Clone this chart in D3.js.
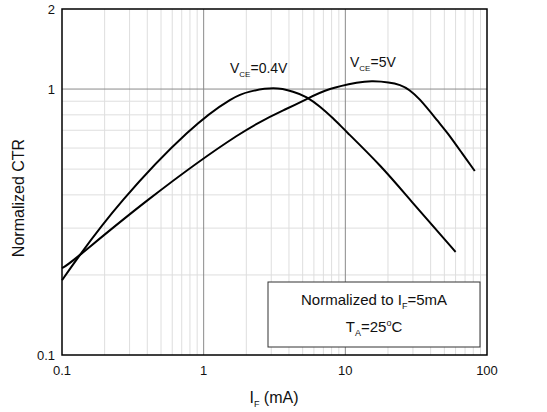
<!DOCTYPE html>
<html>
<head>
    <script src="https://d3js.org/d3.v7.min.js"></script>
    <style>
        body { margin: 0; background: #fff; }
        text { font-family: Arial, "Liberation Sans", sans-serif; fill: #111; }
    </style>
</head>
<body>
    <svg width="547" height="412"></svg>
    <script>
        // forward current (mA) and normalized CTR
        var if04 = [0.1, 0.134, 0.27, 0.76, 1.53, 2.12, 3.1, 4.27, 5.33, 6.62, 8.18, 10.4, 17.6, 29.6, 60];
        var ctr04 = [0.191, 0.238, 0.383, 0.682, 0.909, 0.978, 1.006, 0.977, 0.931, 0.858, 0.776, 0.684, 0.515, 0.376, 0.244];

        var if5 = [0.1, 0.134, 0.405, 1.71, 3.75, 5.33, 7.8, 12.0, 15.7, 24.3, 33.7, 44.4, 53.1, 66.6, 82];
        var ctr5 = [0.212, 0.238, 0.383, 0.666, 0.838, 0.917, 1.0, 1.056, 1.07, 1.035, 0.91, 0.764, 0.678, 0.574, 0.492];

        var xTicks = [0.1, 1, 10, 100];
        var yTicks = [0.1, 1, 2];

        var svg = d3.select("svg"),
            margin = {left: 62, right: 60, top: 9, bottom: 57},
            width = 547 - margin.left - margin.right,
            height = 412 - margin.top - margin.bottom;

        var x = d3.scaleLog().domain([0.1, 100]).range([0, width]);
        var y = d3.scaleLog().domain([0.1, 2]).range([height, 0]);

        var g = svg.append("g")
                   .attr("transform", "translate(" + margin.left + "," + margin.top + ")");

        // grid
        var xMinor = [], yMinor = [];
        [0.1, 1, 10].forEach(function(d) {
            for (var k = 2; k <= 9; k++) xMinor.push(d * k);
        });
        for (var k = 2; k <= 9; k++) yMinor.push(k / 10);

        g.selectAll(".vx").data(xMinor).enter().append("line")
         .attr("x1", d => x(d)).attr("x2", d => x(d))
         .attr("y1", 0).attr("y2", height)
         .attr("stroke", "#dedede").attr("stroke-width", 1);
        g.selectAll(".hy").data(yMinor).enter().append("line")
         .attr("x1", 0).attr("x2", width)
         .attr("y1", d => y(d)).attr("y2", d => y(d))
         .attr("stroke", "#dedede").attr("stroke-width", 1);
        g.selectAll(".vmaj").data([1, 10]).enter().append("line")
         .attr("x1", d => x(d)).attr("x2", d => x(d))
         .attr("y1", 0).attr("y2", height)
         .attr("stroke", "#8a8a8a").attr("stroke-width", 1);
        g.append("line")
         .attr("x1", 0).attr("x2", width)
         .attr("y1", y(1)).attr("y2", y(1))
         .attr("stroke", "#8a8a8a").attr("stroke-width", 1);

        // curves
        var line = d3.line()
                     .x(d => x(d[0]))
                     .y(d => y(d[1]))
                     .curve(d3.curveNatural);

        [[if04, ctr04], [if5, ctr5]].forEach(function(s) {
            g.append("path")
             .datum(d3.zip(s[0], s[1]))
             .attr("d", line)
             .attr("fill", "none")
             .attr("stroke", "#000")
             .attr("stroke-width", 2);
        });

        // frame
        g.append("rect")
         .attr("width", width).attr("height", height)
         .attr("fill", "none").attr("stroke", "#000").attr("stroke-width", 1.5);

        // tick labels
        g.selectAll(".xt").data(xTicks).enter().append("text")
         .attr("x", d => x(d)).attr("y", height + 20)
         .attr("text-anchor", "middle")
         .style("font-size", "13px")
         .text(d => d);
        g.selectAll(".yt").data(yTicks).enter().append("text")
         .attr("x", -7).attr("y", d => y(d) + 5)
         .attr("text-anchor", "end")
         .style("font-size", "13px")
         .text(d => d);

        // axis titles
        var xt = svg.append("text")
                    .attr("x", 274).attr("y", 403)
                    .attr("text-anchor", "middle")
                    .style("font-size", "16px");
        xt.append("tspan").text("I");
        xt.append("tspan").attr("dy", 4).style("font-size", "9px").text("F");
        xt.append("tspan").attr("dy", -4).text(" (mA)");

        svg.append("text")
           .attr("transform", "translate(24,198) rotate(-90)")
           .attr("text-anchor", "middle")
           .style("font-size", "16px")
           .text("Normalized CTR");

        // curve labels
        function subLabel(px, py, sub, rest) {
            var t = svg.append("text").attr("x", px).attr("y", py).style("font-size", "14px");
            t.append("tspan").text("V");
            t.append("tspan").attr("dy", 4).style("font-size", "8px").text(sub);
            t.append("tspan").attr("dy", -4).text(rest);
        }
        subLabel(230, 73, "CE", "=0.4V");
        subLabel(350, 67, "CE", "=5V");

        // condition box
        svg.append("rect")
           .attr("x", 268).attr("y", 282).attr("width", 212).attr("height", 65)
           .attr("fill", "#fff").attr("stroke", "#333").attr("stroke-width", 1);

        var t1 = svg.append("text").attr("x", 374).attr("y", 305)
                    .attr("text-anchor", "middle").style("font-size", "15px");
        t1.append("tspan").text("Normalized to I");
        t1.append("tspan").attr("dy", 4).style("font-size", "9px").text("F");
        t1.append("tspan").attr("dy", -4).text("=5mA");

        var t2 = svg.append("text").attr("x", 374).attr("y", 332)
                    .attr("text-anchor", "middle").style("font-size", "15px");
        t2.append("tspan").text("T");
        t2.append("tspan").attr("dy", 4).style("font-size", "9px").text("A");
        t2.append("tspan").attr("dy", -4).text("=25");
        t2.append("tspan").attr("dy", -6).style("font-size", "9px").text("o");
        t2.append("tspan").attr("dy", 6).text("C");
    </script>
</body>
</html>
